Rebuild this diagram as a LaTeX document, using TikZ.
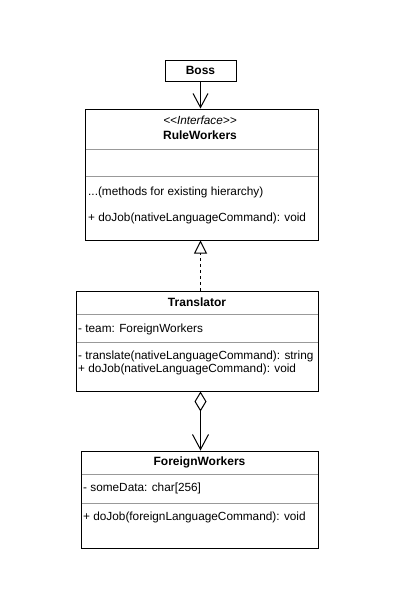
\documentclass[tikz,border=0pt]{standalone}
\usepackage{fontspec}
\setmainfont{Liberation Sans}
\usetikzlibrary{arrows.meta}

\begin{document}
\begin{tikzpicture}[x=1pt,y=-1pt,
    font=\fontsize{11.8}{14}\selectfont,
    classbox/.style={draw=black,line width=1pt,inner sep=0pt},
    divider/.style={draw=black!40,line width=0.8pt},
    member/.style={anchor=west,inner sep=0pt},
    title/.style={inner sep=0pt,font=\fontsize{12}{14}\selectfont\bfseries},
    uses/.style={line width=1pt,-{Straight Barb[length=14pt,width=15pt]}},
    realizes/.style={line width=1pt,dash pattern=on 3pt off 3pt,-{Triangle[open,length=13pt,width=13pt]}},
    aggregates/.style={line width=1pt,{Diamond[open,length=20pt,width=12pt]}-{Straight Barb[length=15pt,width=16pt]}}]
  \useasboundingbox (0,0) rectangle (400,600);

  % Boss
  \node[classbox,minimum width=71pt,minimum height=21pt,font=\fontsize{12}{14}\selectfont\bfseries] (boss) at (200.5,70.5) {Boss};

  % RuleWorkers interface
  \node[classbox,minimum width=233pt,minimum height=131pt] (rule) at (201.5,174.5) {};
  \draw[divider] (85.5,149) -- (317.5,149);
  \draw[divider] (85.5,176) -- (317.5,176);
  \node[inner sep=0pt] (ruleStereo) at (200,120) {\textit{\textless\kern0pt\textless\kern0pt Interface\kern0pt\textgreater\kern0pt\textgreater}};
  \node[title] (ruleName) at (200,135) {RuleWorkers};
  \node[member] (ruleM1) at (88,192) {...(methods for existing hierarchy)};
  \node[member] (ruleM2) at (88,218) {+ doJob(nativeLanguageCommand): void};

  % Translator
  \node[classbox,minimum width=242pt,minimum height=100pt] (trans) at (197,341) {};
  \draw[divider] (76.5,314) -- (317.5,314);
  \draw[divider] (76.5,342) -- (317.5,342);
  \node[title] (transName) at (197,302) {Translator};
  \node[member] (transA1) at (78,329) {- team: ForeignWorkers};
  \node[member] (transM1) at (78,356.5) {- translate(nativeLanguageCommand): string};
  \node[member] (transM2) at (78,369) {+ doJob(nativeLanguageCommand): void};

  % ForeignWorkers
  \node[classbox,minimum width=237pt,minimum height=97pt] (foreign) at (199.5,499.5) {};
  \draw[divider] (81.5,474) -- (317.5,474);
  \draw[divider] (81.5,503) -- (317.5,503);
  \node[title] (foreignName) at (199.5,462) {ForeignWorkers};
  \node[member] (foreignA1) at (83,488) {- someData: char[256]};
  \node[member] (foreignM1) at (83,517) {+ doJob(foreignLanguageCommand): void};

  % connectors
  \draw[uses] (boss.south) -- (boss.south |- rule.north);
  \draw[realizes] (trans.north -| boss.south) -- (rule.south -| boss.south);
  \draw[aggregates] (trans.south -| boss.south) -- (foreign.north -| boss.south);
\end{tikzpicture}
\end{document}
